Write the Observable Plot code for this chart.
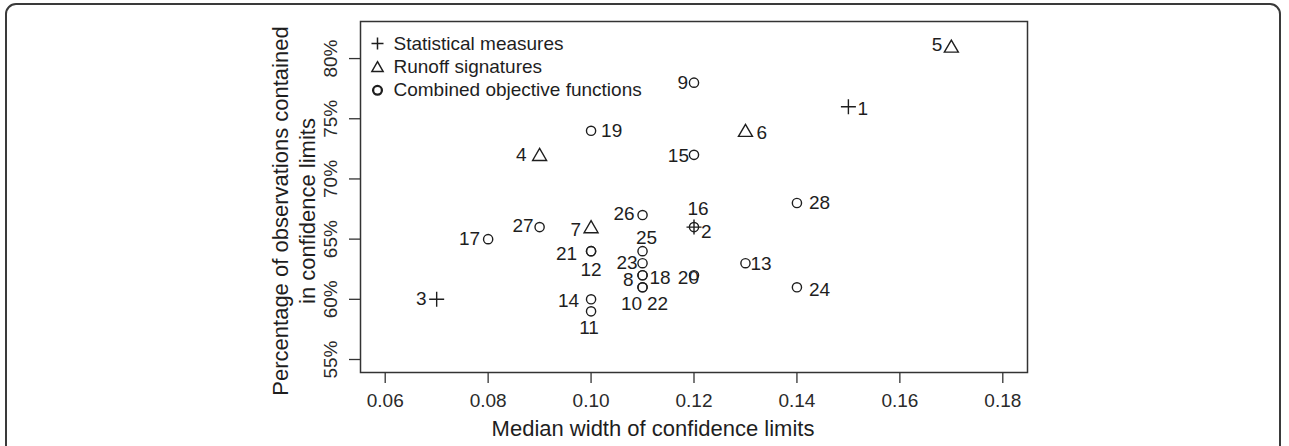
<!DOCTYPE html>
<html>
<head>
<meta charset="utf-8">
<script src="https://cdn.jsdelivr.net/npm/d3@7"></script>
<script src="https://cdn.jsdelivr.net/npm/@observablehq/plot@0.6"></script>
<style>
  html, body { margin: 0; padding: 0; background: #fff; }
  #wrap { position: relative; width: 1289px; height: 446px; overflow: hidden; }
  #border { position: absolute; left: 5px; top: 3px; width: 1276px; height: 520px;
            border: 2px solid #3a3a3a; border-radius: 11px; box-sizing: border-box; }
  #chart { position: absolute; left: 0; top: 0; }
  svg { font-family: "Liberation Sans", Arial, sans-serif; }
</style>
</head>
<body>
<div id="wrap"><div id="border"></div><div id="chart"></div></div>
<script>
// ---- data ----
const ids      = [1, 2, 3, 4, 5, 6, 7, 8, 9, 10, 11, 12, 13, 14, 15, 16, 17, 18, 19, 20, 21, 22, 23, 24, 25, 26, 27, 28];
const widths   = [0.15, 0.12, 0.07, 0.09, 0.17, 0.13, 0.10, 0.11, 0.12, 0.11, 0.10, 0.10, 0.13, 0.10, 0.12, 0.12, 0.08, 0.11, 0.10, 0.12, 0.10, 0.11, 0.11, 0.14, 0.11, 0.11, 0.09, 0.14];
const coverage = [76, 66, 60, 72, 81, 74, 66, 62, 78, 61, 59, 64, 63, 60, 72, 66, 65, 62, 74, 62, 64, 61, 63, 61, 64, 67, 66, 68];
const groups   = ["stat", "stat", "stat", "sig", "sig", "sig", "sig",
                  "comb", "comb", "comb", "comb", "comb", "comb", "comb", "comb", "comb", "comb", "comb",
                  "comb", "comb", "comb", "comb", "comb", "comb", "comb", "comb", "comb", "comb"];
const groupKeys   = ["stat", "sig", "comb"];
const legendLabels = ["Statistical measures", "Runoff signatures", "Combined objective functions"];
const xTicks = [0.06, 0.08, 0.10, 0.12, 0.14, 0.16, 0.18];
const yTicks = [55, 60, 65, 70, 75, 80];
const xTitle = "Median width of confidence limits";
const yTitle = "Percentage of observations contained\nin confidence limits";

// ---- label placement (layout only): [textAnchor, dx, dy] per id ----
const labelPlacement = {
  1: ["start", 9, 2], 2: ["start", 7, 5], 3: ["end", -10, 0], 4: ["end", -13, 0],
  5: ["end", -9, -2], 6: ["start", 11, 2], 7: ["end", -10, 3], 8: ["end", -9, 5],
  9: ["end", -6, 0], 10: ["middle", -11, 17], 11: ["middle", -2, 17], 12: ["middle", 0, 19],
  13: ["start", 5, 1], 14: ["end", -12, 2], 15: ["end", -5, 1], 16: ["middle", 4, -18],
  17: ["end", -8, 0], 18: ["start", 7, 3], 19: ["start", 10, 0], 20: ["end", 5, 3],
  21: ["end", -14, 3], 22: ["middle", 15, 17], 23: ["end", -5, 0], 24: ["start", 12, 3],
  25: ["middle", 4, -13], 26: ["end", -8, -1], 27: ["end", -6, -1], 28: ["start", 12, 0]
};

const rows = ids.map((id, i) => ({id, x: widths[i], y: coverage[i], g: groups[i]}));

// ---- symbols ----
const plusSym = {draw(ctx, size) { const r = Math.sqrt(size / Math.PI);
  ctx.moveTo(-r, 0); ctx.lineTo(r, 0); ctx.moveTo(0, -r); ctx.lineTo(0, r); }};
const triSym = {draw(ctx, size) { const r = Math.sqrt(size / Math.PI);
  ctx.moveTo(0, -0.93 * r); ctx.lineTo(r, 0.8 * r); ctx.lineTo(-r, 0.8 * r); ctx.closePath(); }};
const circSym = {draw(ctx, size) { const r = Math.sqrt(size / Math.PI);
  ctx.moveTo(r, 0); ctx.arc(0, 0, r, 0, 2 * Math.PI); }};
const symFor = {stat: plusSym, sig: triSym, comb: circSym};
const rFor = {stat: 7.5, sig: 7, comb: 4.6};
const legendR = {stat: 6, sig: 5.6, comb: 4.4};
const legendSW = {stat: 1.5, sig: 1.5, comb: 2.3};

const ink = "#1e1e1e";
const lineCol = "#333";
const fam = "Liberation Sans, Arial, sans-serif";

const marks = [];
marks.push(Plot.frame({stroke: lineCol, strokeWidth: 1.5}));
marks.push(Plot.axisX({ticks: xTicks, tickSize: 11, tickFormat: () => "", label: null, stroke: lineCol, strokeWidth: 1.3}));
marks.push(Plot.axisY({ticks: yTicks, tickSize: 11, tickFormat: () => "", label: null, stroke: lineCol, strokeWidth: 1.3}));
// tick labels
marks.push(Plot.text(xTicks, {x: d => d, frameAnchor: "bottom", dy: 28, text: d => d3.format(".2f")(d),
  textAnchor: "middle", fontSize: 19, fill: "#2a2a2a", fontFamily: fam, lineAnchor: "middle"}));
marks.push(Plot.text(yTicks, {y: d => d, frameAnchor: "left", dx: -30, rotate: -90, text: d => d + "%",
  textAnchor: "middle", fontSize: 19, fill: "#2a2a2a", fontFamily: fam, lineAnchor: "middle"}));
// axis titles
marks.push(Plot.text([xTitle], {frameAnchor: "bottom", dx: -41, dy: 56, text: d => d,
  textAnchor: "middle", fontSize: 22, fill: ink, fontFamily: fam, lineAnchor: "middle"}));
marks.push(Plot.text([yTitle], {frameAnchor: "left", dx: -68, dy: 14, rotate: -90, text: d => d,
  textAnchor: "middle", fontSize: 22, fill: ink, fontFamily: fam, lineAnchor: "middle", lineHeight: 1.23}));
// points
for (const g of groupKeys) {
  marks.push(Plot.dot(rows.filter(d => d.g === g), {x: "x", y: "y", symbol: symFor[g], r: rFor[g],
    fill: "none", stroke: ink, strokeWidth: 1.4}));
}
// point labels
for (const d of rows) {
  const [anchor, dx, dy] = labelPlacement[d.id];
  marks.push(Plot.text([d], {x: "x", y: "y", text: r => String(r.id), textAnchor: anchor, dx, dy,
    fontSize: 19, fill: ink, fontFamily: fam, lineAnchor: "middle"}));
}
// legend
groupKeys.forEach((g, i) => {
  marks.push(Plot.dot([0], {frameAnchor: "top-left", dx: 17, dy: 22 + i * 23.4, symbol: symFor[g],
    r: legendR[g], fill: "none", stroke: ink, strokeWidth: legendSW[g]}));
  marks.push(Plot.text([legendLabels[i]], {frameAnchor: "top-left", dx: 33, dy: 22 + i * 23.4, text: d => d,
    textAnchor: "start", fontSize: 19, fill: ink, fontFamily: fam, lineAnchor: "middle"}));
});

const chart = Plot.plot({
  width: 1289, height: 446,
  marginLeft: 360, marginRight: 262, marginTop: 21, marginBottom: 74,
  style: {background: "transparent", fontFamily: fam},
  x: {domain: [0.06 - 0.0048, 0.18 + 0.0048], label: null},
  y: {domain: [55 - 1.08, 82 + 1.08], label: null},
  marks
});
document.getElementById("chart").appendChild(chart);
</script>
</body>
</html>
